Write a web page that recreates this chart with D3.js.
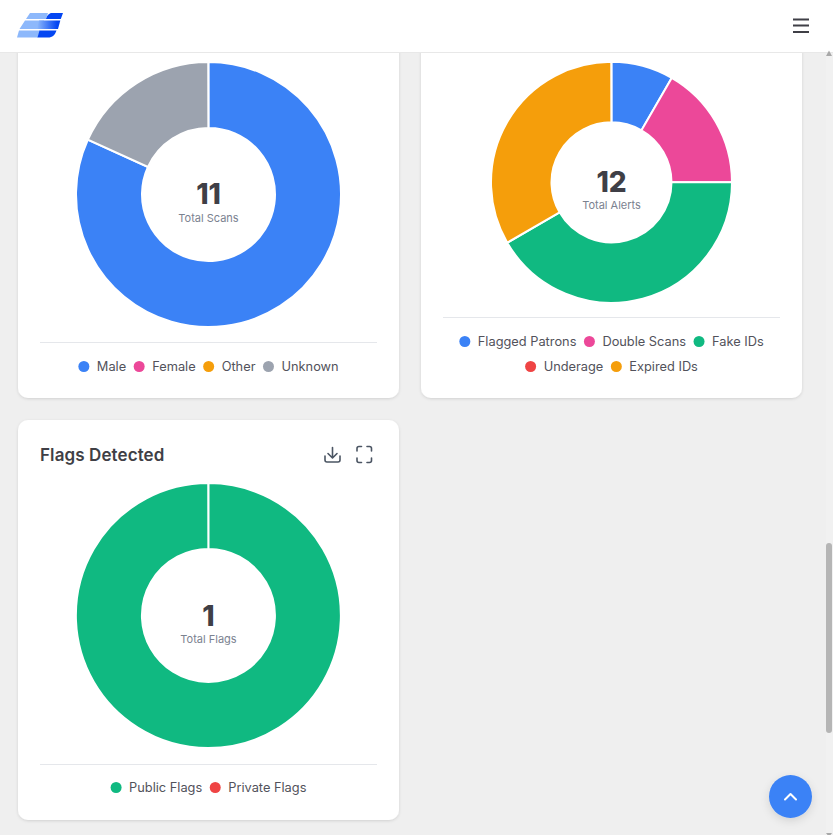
<!DOCTYPE html>
<html><head><meta charset="utf-8">
<script src="https://cdn.jsdelivr.net/npm/d3@7/dist/d3.min.js"></script>
<style>
html,body{margin:0;padding:0;background:#efefef;overflow:hidden}
svg{display:block}
text{font-family:"Inter","Noto Sans",sans-serif}
</style></head><body>
<svg id="c" width="833" height="835" viewBox="0 0 833 835"></svg>
<script>
const genderLabels=["Male","Female","Other","Unknown"];
const genderValues=[9,0,0,2];
const genderColors=["#3b82f6","#ec4899","#f59e0b","#9ca3af"];
const alertLabels=["Flagged Patrons","Double Scans","Fake IDs","Underage","Expired IDs"];
const alertValues=[1,2,5,0,4];
const alertColors=["#3b82f6","#ec4899","#10b981","#ef4444","#f59e0b"];
const flagLabels=["Public Flags","Private Flags"];
const flagValues=[1,0];
const flagColors=["#10b981","#ef4444"];

const svg=d3.select("#c");
const defs=svg.append("defs");
const f=defs.append("filter").attr("id","sh").attr("x","-10%").attr("y","-10%").attr("width","120%").attr("height","120%");
f.append("feDropShadow").attr("dx",0).attr("dy",1).attr("stdDeviation",1.6).attr("flood-color","#000").attr("flood-opacity",.13);
const f2=defs.append("filter").attr("id","sh2").attr("x","-40%").attr("y","-40%").attr("width","180%").attr("height","180%");
f2.append("feDropShadow").attr("dx",0).attr("dy",3).attr("stdDeviation",4).attr("flood-color","#000").attr("flood-opacity",.12);
const g1=defs.append("linearGradient").attr("id","lg").attr("gradientUnits","userSpaceOnUse").attr("x1",37).attr("x2",57).attr("y1",0).attr("y2",0);
g1.append("stop").attr("offset","0").attr("stop-color","#8db8fb");
g1.append("stop").attr("offset","1").attr("stop-color","#0446f2");

function card(x,y,w,h){
  svg.append("rect").attr("x",x).attr("y",y).attr("width",w).attr("height",h).attr("rx",10).attr("fill","#fff").attr("filter","url(#sh)");
}
function donut(cx,cy,R,r,vals,cols,num,lab,numY,labY){
  const pie=d3.pie().sort(null).startAngle(0).endAngle(2*Math.PI-0.002);
  const arc=d3.arc().innerRadius(r).outerRadius(R);
  const g=svg.append("g").attr("transform",`translate(${cx},${cy})`);
  g.selectAll("path").data(pie(vals).filter(d=>d.value>0)).join("path")
    .attr("d",arc).attr("fill",(d)=>cols[d.index]).attr("stroke","#fff").attr("stroke-width",2);
  svg.append("text").attr("x",cx).attr("y",numY).attr("text-anchor","middle")
    .attr("font-size",28).attr("font-weight",800).attr("fill","#3f3f46").text(num);
  svg.append("text").attr("x",cx).attr("y",labY).attr("text-anchor","middle")
    .attr("font-size",11).attr("fill","#7b8290").text(lab);
}
function legend(items,y,cx,cols,start){
  const g=svg.append("g");
  let probe=g.append("text").attr("font-size",12.8);
  const widths=items.map(t=>{probe.text(t);return probe.node().getComputedTextLength();});
  probe.remove();
  const total=d3.sum(widths)+items.length*18.5+(items.length-1)*7.5;
  let x=cx-total/2;
  items.forEach((t,i)=>{
    g.append("circle").attr("cx",x+5.5).attr("cy",y).attr("r",5.5).attr("fill",cols[start+i]);
    g.append("text").attr("x",x+18.5).attr("y",y+4.5).attr("font-size",12.8).attr("fill","#52525b").text(t);
    x+=18.5+widths[i]+7.5;
  });
}
function rule(x1,x2,y){svg.append("line").attr("x1",x1).attr("x2",x2).attr("y1",y).attr("y2",y).attr("stroke","#e5e7eb").attr("stroke-width",1);}

card(18,20,381,378);
card(421,20,381,378);
card(18,420,381,400);

donut(208.5,194.5,132.5,66.5,genderValues,genderColors,"11","Total Scans",204,222);
rule(40,377,342.5);
legend(genderLabels,366.5,208.5,genderColors,0);

donut(611.5,182.3,120.5,60,alertValues,alertColors,"12","Total Alerts",192,209);
rule(443,780,317.5);
legend(alertLabels.slice(0,3),341.5,611.5,alertColors,0);
legend(alertLabels.slice(3),366.5,611.5,alertColors,3);

svg.append("text").attr("x",40).attr("y",461).attr("font-size",17).attr("font-weight",600).attr("letter-spacing",0.1).attr("fill","#3f3f46").text("Flags Detected");
const ic=svg.append("g").attr("fill","none").attr("stroke","#4b5563").attr("stroke-width",1.6).attr("stroke-linecap","round").attr("stroke-linejoin","round");
ic.append("path").attr("d","M332.5 447.5v10M328 453.5l4.5 4.5 4.5-4.5M325 456v4a2 2 0 0 0 2 2h11a2 2 0 0 0 2-2v-4");
ic.append("path").attr("d","M357 451v-2.5a2 2 0 0 1 2-2h2.5M367 446.5h2.5a2 2 0 0 1 2 2v2.5M371.5 458v2.5a2 2 0 0 1-2 2h-2.5M361.5 462.5h-2.5a2 2 0 0 1-2-2v-2.5");

donut(208.5,615.5,132.5,66.5,flagValues,flagColors,"1","Total Flags",626,643);
rule(40,377,764.5);
legend(flagLabels,787.5,208.5,flagColors,0);

// header
svg.append("rect").attr("x",0).attr("y",0).attr("width",833).attr("height",52).attr("fill","#fff");
svg.append("line").attr("x1",0).attr("x2",833).attr("y1",52.5).attr("y2",52.5).attr("stroke","#e8e8e8");
const logo=svg.append("g");
logo.append("path").attr("fill","#8db8fb").attr("d","M30 13H48L46 19H26Z M25 20.5H44L42 29H19.5Z M19 30.5H40L38 37.5H17Z");
logo.append("path").attr("fill","#0446f2").attr("d","M46 19C47 15.500 49 13 52 13H63L60.800 19Z M37.500 37.500L39.500 30.500H56.500C55 35 52.500 37.500 48 37.500Z");
logo.append("path").attr("fill","url(#lg)").attr("d","M37 29L39 20.500H60.300L58 29Z");
svg.append("path").attr("d","M793 19.5H809M793 25.5H809M793 32H809").attr("stroke","#3f3f46").attr("stroke-width",1.8).attr("fill","none");

// scrollbar
svg.append("rect").attr("x",826).attr("y",53).attr("width",7).attr("height",782).attr("fill","#f1f1f1");
svg.append("path").attr("d","M829 50.5L826 56H832Z").attr("fill","#a8a8a8");
svg.append("rect").attr("x",826).attr("y",543).attr("width",6).attr("height",190).attr("rx",3).attr("fill","#b5b5b5");
svg.append("path").attr("d","M826 833H832L829 837Z").attr("fill","#a8a8a8");

// top button
svg.append("circle").attr("cx",790.5).attr("cy",796.5).attr("r",21.5).attr("fill","#3b82f6").attr("filter","url(#sh2)");
svg.append("path").attr("d","M785 799.5L790.5 794L796 799.5").attr("stroke","#fff").attr("stroke-width",2).attr("fill","none").attr("stroke-linecap","round").attr("stroke-linejoin","round");
</script>
</body></html>
